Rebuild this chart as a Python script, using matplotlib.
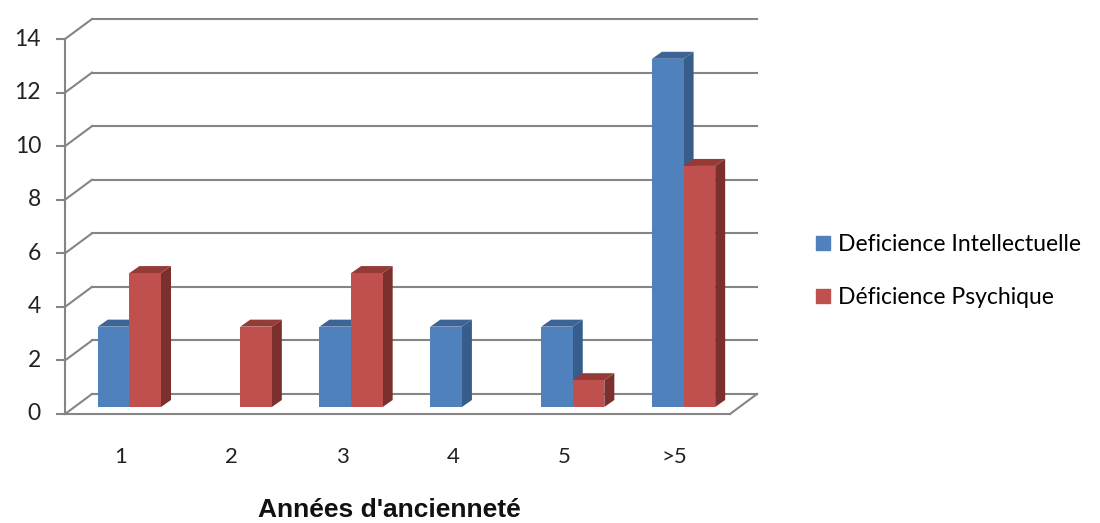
import matplotlib
matplotlib.use("Agg")
import matplotlib.pyplot as plt
from matplotlib.patches import Polygon
from matplotlib.lines import Line2D

# data
categories = ['1', '2', '3', '4', '5', '>5']
intellectuelle = [3, 0, 3, 3, 3, 13]
psychique = [5, 3, 5, 0, 1, 9]
yticks = [0, 2, 4, 6, 8, 10, 12, 14]
series_names = ['Deficience Intellectuelle', 'Déficience Psychique']

# colours (front, side, top)
blue = ('#4f81bd', '#385d8a', '#3d6496')
red = ('#c0504d', '#7c302e', '#943a37')
grid_col = '#858585'

W, H = 1100, 523
fig = plt.figure(figsize=(W / 100, H / 100), dpi=100)
# axes = front plane of the 3d box
ax = fig.add_axes([65 / W, (H - 414) / H, 665 / W, 375 / H])
ax.set_xlim(0, len(categories))
ax.set_ylim(0, 14)
ax.axis('off')

# pixel -> data scale
sx = len(categories) / 665
sy = 14 / 375
bx, by = 27 * sx, 20 * sy      # back wall offset
fx, fy = 9 * sx, 7 * sy        # bar front face offset
dx, dy = 10 * sx, 7 * sy       # bar depth

n = len(categories)

# back wall gridlines + side wall diagonals + ticks
for v in yticks:
    ax.plot([bx, n + bx], [v + by, v + by], color=grid_col, lw=1.5,
            clip_on=False, zorder=1)
    ax.plot([0, bx], [v, v + by], color=grid_col, lw=1.5, clip_on=False, zorder=1)
    ax.plot([-8 * sx, 0], [v, v], color=grid_col, lw=1.5, clip_on=False, zorder=1)
    ax.text(-24 * sx, v, str(v), ha='right', va='center', fontsize=16.5,
            family='Lato', color='#222222')

# front axis and floor edge
ax.plot([0, 0], [0, 14], color=grid_col, lw=1.5, clip_on=False, zorder=1)
ax.plot([0, n], [0, 0], color=grid_col, lw=1.5, clip_on=False, zorder=5)
ax.plot([n, n + bx], [0, by], color=grid_col, lw=1.5, clip_on=False, zorder=5)


def bar3d(x0, w, h, cols, z):
    if h == 0:
        return
    x0 = x0 + fx
    x1 = x0 + w
    y0, y1 = fy, h + fy
    front = [(x0, y0), (x1, y0), (x1, y1), (x0, y1)]
    side = [(x1, y0), (x1 + dx, y0 + dy), (x1 + dx, y1 + dy), (x1, y1)]
    top = [(x0, y1), (x1, y1), (x1 + dx, y1 + dy), (x0 + dx, y1 + dy)]
    for pts, c in ((side, cols[1]), (top, cols[2]), (front, cols[0])):
        ax.add_patch(Polygon(pts, closed=True, facecolor=c, edgecolor='none',
                             clip_on=False, zorder=z))


bw = 0.285
for i in range(n):
    c = i + 0.5
    bar3d(c - bw, bw, intellectuelle[i], blue, 3 + i * 0.1)
    bar3d(c, bw, psychique[i], red, 3.05 + i * 0.1)
    ax.text(c, -1.6, categories[i], ha='center', va='center', fontsize=16,
            family='Lato', color='#222222')

ax.text(n / 2 - 0.07, -3.6, "Années d'ancienneté", ha='center', va='center',
        fontsize=19, fontweight='bold', family='Liberation Sans', color='#111111')

handles = [Line2D([], [], marker='s', ls='', markersize=9.5, color=blue[0]),
           Line2D([], [], marker='s', ls='', markersize=9.5, color=red[0])]
fig.legend(handles, series_names, loc='center left',
           bbox_to_anchor=(794 / W, 1 - 271 / H), frameon=False,
           handlelength=0.7, handletextpad=0.3, labelspacing=1.4,
           prop={'family': 'Lato', 'size': 16.5})

fig.savefig('out.png', dpi=100, facecolor='white')
